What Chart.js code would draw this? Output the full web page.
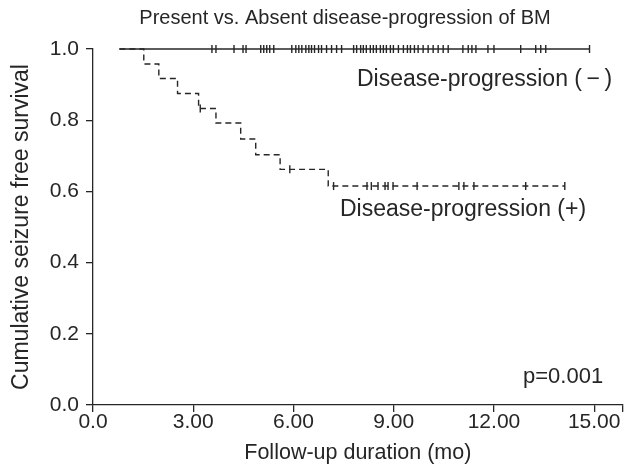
<!DOCTYPE html>
<html>
<head>
<meta charset="utf-8">
<script src="https://cdn.jsdelivr.net/npm/chart.js@4.4.1/dist/chart.umd.min.js"></script>
<style>
  html, body { margin: 0; padding: 0; background: #fff; }
  #wrap { width: 628px; height: 469px; }
</style>
</head>
<body>
<div id="wrap"><canvas id="km"></canvas></div>
<script>
// --- DATA ---
const xTicks = [0, 3, 6, 9, 12, 15, 15.85];
const yTicks = [0, 0.2, 0.4, 0.6, 0.8, 1.0];

// Disease-progression (-): no events, flat at 1.0
const negTimes = [0.79, 14.86];
const negSurv = [1.0, 1.0];
const negCensor = [3.56, 3.68, 4.22, 4.49, 4.58, 5.02, 5.11, 5.20, 5.29, 5.41,
  5.95, 6.07, 6.16, 6.25, 6.37, 6.46, 6.54, 6.63, 6.75, 6.84, 6.99, 7.14, 7.29, 7.44,
  7.80, 7.89, 8.01, 8.09, 8.18, 8.30, 8.39, 8.48, 8.60, 8.69, 8.78, 8.90, 8.99,
  9.14, 9.29, 9.41, 9.50, 9.62, 9.73, 9.88, 10.03, 10.18, 10.33, 10.48, 10.63,
  11.07, 11.23, 11.34, 11.46, 11.82, 12.00, 12.80, 13.25, 13.40, 13.55, 14.86];

// Disease-progression (+): step curve
const posTimes = [0.79, 1.52, 1.97, 2.53, 3.16, 3.68, 4.42, 4.87, 5.60, 7.04, 14.12];
const posSurv = [1.0, 0.958, 0.917, 0.875, 0.833, 0.792, 0.747, 0.703, 0.662, 0.615, 0.615];
const posCensor = [3.21, 5.89, 7.20, 8.20, 8.33, 8.53, 8.74, 8.83, 8.98, 9.70,
  10.95, 11.10, 11.40, 12.95, 14.12];

const INK = '#262626';
const FONT = '"Liberation Sans", Arial, sans-serif';

// survival value in effect at time t (step lookup)
function survAt(times, surv, t) {
    let s = surv[0];
    for (let i = 0; i < times.length; i++) {
        if (times[i] <= t) s = surv[i];
    }
    return s;
}

const toPts = (xs, ys) => xs.map((x, i) => ({ x: x, y: ys[i] }));
const censorPts = (cs, times, surv) => cs.map(t => ({ x: t, y: survAt(times, surv, t) }));

// text labels drawn on top of the plot
const annotations = {
    id: 'annotations',
    afterDraw(chart) {
        const ctx = chart.ctx;
        ctx.save();
        ctx.fillStyle = INK;
        ctx.textBaseline = 'middle';
        ctx.font = '20px ' + FONT;
        ctx.textAlign = 'center';
        ctx.fillText('Present vs. Absent disease-progression of BM', 345, 18);
        ctx.textAlign = 'left';
        ctx.font = '23px ' + FONT;
        ctx.fillText('Disease-progression (\u2009\u2212\u2009)', 357, 80);
        ctx.fillText('Disease-progression (+)', 340, 210);
        ctx.font = '22px ' + FONT;
        ctx.fillText('p=0.001', 523, 377);
        ctx.restore();
    }
};

const tickStyle = { color: INK, font: { family: FONT, size: 21 } };

new Chart(document.getElementById('km'), {
    type: 'scatter',
    data: {
        datasets: [
            {
                data: toPts(negTimes, negSurv),
                showLine: true, stepped: true,
                borderColor: INK, borderWidth: 1.4,
                pointRadius: 0, clip: false
            },
            {
                data: censorPts(negCensor, negTimes, negSurv),
                pointStyle: 'line', rotation: 90, pointRadius: 4,
                borderColor: INK, pointBorderWidth: 1.4, clip: false
            },
            {
                data: toPts(posTimes, posSurv),
                showLine: true, stepped: true,
                borderColor: INK, borderWidth: 1.4, borderDash: [6, 4],
                pointRadius: 0, clip: false
            },
            {
                data: censorPts(posCensor, posTimes, posSurv),
                pointStyle: 'line', rotation: 90, pointRadius: 4,
                borderColor: INK, pointBorderWidth: 1.4, clip: false
            }
        ]
    },
    options: {
        responsive: true,
        maintainAspectRatio: false,
        animation: false,
        layout: { padding: { top: 49, right: 3, left: 0, bottom: 0 } },
        plugins: { legend: { display: false }, tooltip: { enabled: false } },
        scales: {
            x: {
                type: 'linear', min: 0, max: 15.85,
                afterBuildTicks: s => { s.ticks = xTicks.map(v => ({ value: v })); },
                afterFit: s => { s.height = 64; },
                ticks: {
                    ...tickStyle, padding: -2, maxRotation: 0, autoSkip: false,
                    callback: v => v === 15.85 ? '' : (v === 0 ? '0.0' : v.toFixed(2))
                },
                grid: { drawOnChartArea: false, drawTicks: true, tickLength: 7, color: INK, lineWidth: 1.3 },
                border: { display: true, color: INK, width: 1.3 },
                title: {
                    display: true, text: 'Follow-up duration (mo)', color: INK,
                    font: { family: FONT, size: 21.5 }, padding: { top: 0, bottom: 3 }
                }
            },
            y: {
                type: 'linear', min: 0, max: 1,
                afterBuildTicks: s => { s.ticks = yTicks.map(v => ({ value: v })); },
                afterFit: s => { s.width = 93; },
                ticks: { ...tickStyle, padding: 7, callback: v => v.toFixed(1) },
                grid: { drawOnChartArea: false, drawTicks: true, tickLength: 7, color: INK, lineWidth: 1.3 },
                border: { display: true, color: INK, width: 1.3 },
                title: {
                    display: true, text: 'Cumulative seizure free survival', color: INK,
                    font: { family: FONT, size: 23 }, padding: { top: 8, bottom: 0 }
                }
            }
        }
    },
    plugins: [annotations]
});
</script>
</body>
</html>
